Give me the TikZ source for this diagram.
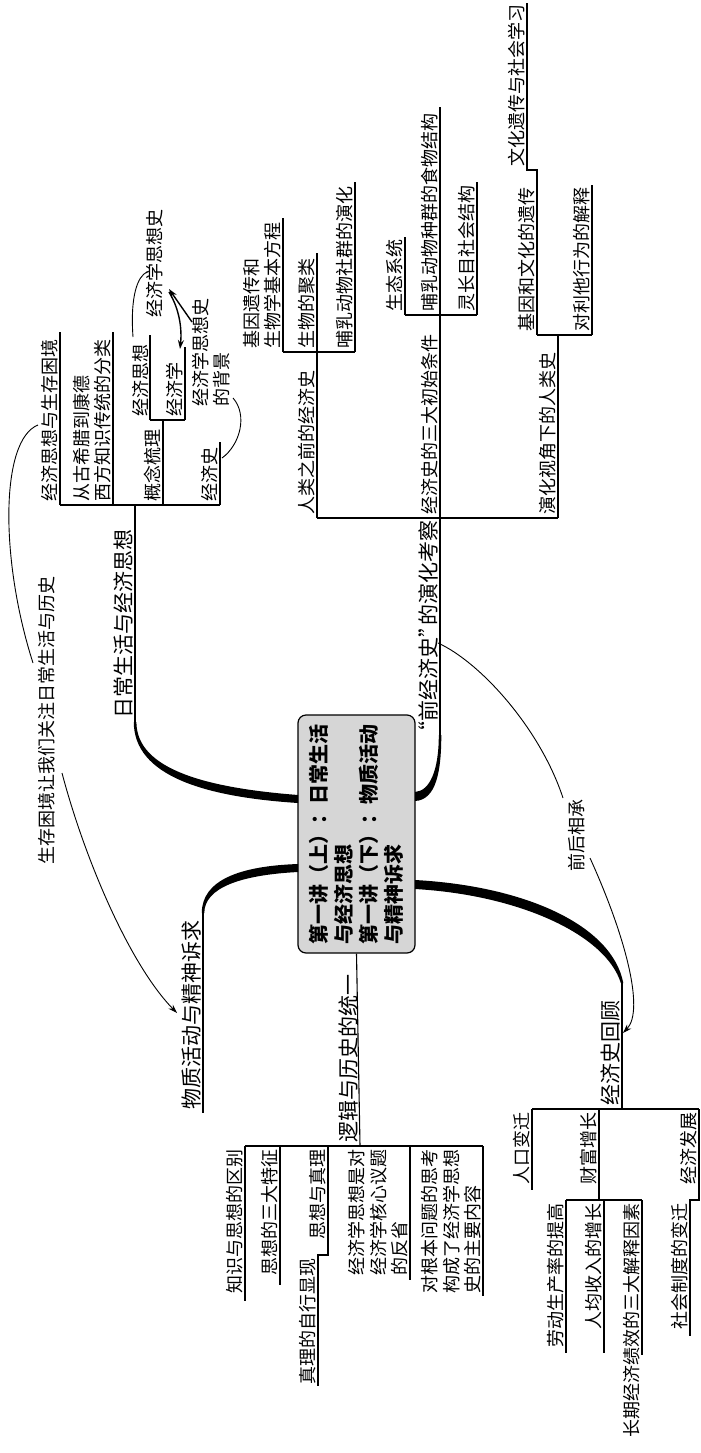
\documentclass[tikz,border=0pt]{standalone}
\usepackage{fontspec}
\setmainfont{Noto Sans CJK SC}
\usetikzlibrary{arrows.meta}
\begin{document}
\begin{tikzpicture}[x=1pt,y=-1pt,
  ln/.style={line width=1.1pt},
  thinln/.style={line width=0.9pt},
  arr/.style={-{Stealth[length=9pt,width=6pt]}},
  lbl/.style={rotate=90, anchor=south west, inner xsep=3pt, inner ysep=1.5pt, align=left, font=\fontsize{18}{21.5}\selectfont},
  lblr/.style={lbl, anchor=south east},
  lbla/.style={lbl, font=\fontsize{21}{24}\selectfont},
  centerbox/.style={draw, line width=1.2pt, fill=gray!32, rounded corners=8pt, rotate=90, minimum width=238pt, minimum height=117pt, align=left, inner sep=0pt, font=\bfseries\fontsize{20}{25}\selectfont}
]
\useasboundingbox (0,0) rectangle (701,1453);

% ---------- centre ----------
\node[centerbox] (C) at (356.5,834) {第一讲（上）：日常生活\\与经济思想\\第一讲（下）：物质活动\\与精神诉求};

% ---------- thick branches ----------
\fill (133.8,722) .. controls (133.8,776) and (205,797) .. (298,803) -- (298,795) .. controls (208,788) and (136.4,770) .. (136.4,722) -- cycle;
\fill (438.8,735) .. controls (438.8,770) and (430,791) .. (415,792) -- (415,801) .. controls (436,800) and (441.3,772) .. (441.3,735) -- cycle;
\fill (298,864) .. controls (240,866) and (201.8,880) .. (201.8,913) -- (204.3,913) .. controls (204.3,888) and (240,875) .. (298,872) -- cycle;
\fill (415,880) .. controls (525,886) and (612,925) .. (623.3,983) -- (620.8,983) .. controls (606,935) and (520,895) .. (415,889) -- cycle;

% ---------- branch 1 : 日常生活与经济思想 ----------
\node[lbla] (A) at (135,722) {日常生活与经济思想};
\coordinate (JA) at (135,505);
\draw[ln] (A.south west) -- (JA);
\node[lbl] (A1) at (60,505) {经济思想与生存困境};
\node[lbl] (A2) at (113,505) {从古希腊到康德\\西方知识传统的分类};
\node[lbl] (A3) at (163,505) {概念梳理};
\node[lbl] (A4) at (220,505) {经济史};
\draw[ln] (A1.south west) -- (A4.south west);
\draw[ln] (A1.south west) -- (60,332);
\draw[ln] (A2.south west) -- (113,332);
\draw[ln] (A3.south west) -- (163,420);
\draw[ln] (A4.south west) -- (220,442);
\coordinate (JA3) at (163,420);
\node[lbl] (A31) at (150,420) {经济思想};
\node[lbl] (A32) at (185,420) {经济学};
\draw[ln] (A31.south west) -- (A32.south west);
\draw[ln] (A31.south west) -- (150,335);
\draw[ln] (A32.south west) -- (185,347);
\node[rotate=90, inner sep=1pt, font=\fontsize{18}{21.5}\selectfont] (K) at (155,263) {经济学思想史};
\node[lbl] (G) at (232,410) {经济学思想史\\的背景};
\draw[thinln] (133,337) .. controls (130,295) and (138,276) .. (147,272);
\draw[line width=1.4pt, arr] (192,322) -- (169,289);
\draw[line width=1.4pt, arr] (169,292) .. controls (180,310) and (182,330) .. (180,349);
\draw[thinln] (233,398) .. controls (248,415) and (240,445) .. (222,458);

% ---------- branch 2 : 前经济史 ----------
\node[lbla] (B) at (440,735) {\makebox[10pt][r]{“}前经济史\makebox[12pt][l]{”}的演化考察};
\draw[ln] (440,735) -- (440,107);
\draw[ln] (317,518) -- (558,518);
\node[lbl] (B1) at (317,518) {人类之前的经济史};
\draw[ln] (B1.south west) -- (317,352);
\node[lbl] (B11) at (283,352) {基因遗传和\\生物学基本方程};
\node[lbl] (B12) at (317,352) {生物的聚类};
\node[lbl] (B13) at (355,352) {哺乳动物社群的演化};
\draw[ln] (B11.south west) -- (B13.south west);
\draw[ln] (B11.south west) -- (283,218);
\draw[ln] (B12.south west) -- (317,253);
\draw[ln] (B13.south west) -- (355,182);
\node[lbl] (B2) at (440,518) {经济史的三大初始条件};
\node[lbl] (B21) at (405,315) {生态系统};
\node[lbl] (B22) at (440,315) {哺乳动物种群的食物结构};
\node[lbl] (B23) at (477,315) {灵长目社会结构};
\draw[ln] (B21.south west) -- (B23.south west);
\draw[ln] (B21.south west) -- (405,237);
\draw[ln] (B23.south west) -- (477,182);
\node[lbl] (B3) at (558,518) {演化视角下的人类史};
\draw[ln] (B3.south west) -- (558,335);
\node[lbl] (B31) at (537,335) {基因和文化的遗传};
\node[lbl] (B32) at (592,335) {对利他行为的解释};
\draw[ln] (B31.south west) -- (B32.south west);
\node[lbl] (B311) at (527,170) {文化遗传与社会学习};
\draw[ln] (B31.south west) -- (537,170) -- (B311.south west) -- (527,3);
\draw[ln] (B32.south west) -- (592,185);

% ---------- branch 3 : 经济史回顾 ----------
\node[lbla] (D) at (622,1109) {经济史回顾};
\draw[ln] (622,983) -- (622,1109);
\draw[ln] (532,1109) -- (699,1109);
\node[lblr] (D1) at (532,1109) {人口变迁};
\node[lblr] (D2) at (599,1109) {财富增长};
\node[lblr] (D3) at (699,1109) {经济发展};
\draw[ln] (D1.south east) -- (532,1190);
\draw[ln] (D2.south east) -- (599,1200);
\draw[ln] (566,1200) -- (642,1200);
\node[lblr] (D21) at (566,1200) {劳动生产率的提高};
\node[lblr] (D22) at (604,1200) {人均收入的增长};
\node[lblr] (D23) at (642,1200) {长期经济绩效的三大解释因素};
\draw[ln] (D21.south east) -- (566,1353);
\draw[ln] (D22.south east) -- (604,1353);
\draw[ln] (D23.south east) -- (642,1355);
\node[lblr] (D31) at (690,1200) {社会制度的变迁};
\draw[ln] (D3.south east) -- (699,1200) -- (D31.south east) -- (690,1336);

% ---------- branch 4 : 逻辑与历史的统一 ----------
\node[lbla] (E) at (360,1146) {逻辑与历史的统一};
\draw[ln] (C.west) -- (360,1146);
\draw[ln] (245,1146) -- (483,1146);
\node[lblr] (E1) at (245,1146) {知识与思想的区别};
\node[lblr] (E2) at (280,1146) {思想的三大特征};
\node[lblr] (E3) at (328,1146) {思想与真理};
\node[lblr] (E4) at (410,1146) {经济学思想是对\\经济学核心议题\\的反省};
\node[lblr] (E5) at (483,1146) {对根本问题的思考\\构成了经济学思想\\史的主要内容};
\draw[ln] (E1.south east) -- (245,1301);
\draw[ln] (E2.south east) -- (280,1285);
\node[lblr] (E31) at (318,1255) {真理的自行显现};
\draw[ln] (E3.south east) -- (328,1255) -- (E31.south east) -- (318,1386);
\draw[ln] (E4.south east) -- (410,1280);
\draw[ln] (E5.south east) -- (483,1296);

% ---------- branch 5 : 物质活动与精神诉求 ----------
\node[lbla] (F) at (203,1113) {物质活动与精神诉求};
\draw[ln] (203,913) -- (F.south west);

% ---------- floating labels and links ----------
\node[rotate=90, inner sep=1pt, font=\fontsize{18}{21.5}\selectfont] (L1) at (47,720) {生存困境让我们关注日常生活与历史};
\draw[thinln] (38,425) .. controls (0,440) and (0,560) .. (33,663);
\draw[thinln, arr] (62,773) .. controls (85,860) and (130,965) .. (177,1013);
\node[rotate=90, inner sep=1pt, font=\fontsize{18}{21.5}\selectfont] (L2) at (577,835) {前后相承};
\draw[thinln] (438,643) .. controls (480,662) and (540,728) .. (563,798);
\draw[thinln, arr] (590,858) .. controls (625,935) and (645,1010) .. (623,1033);
\end{tikzpicture}
\end{document}
